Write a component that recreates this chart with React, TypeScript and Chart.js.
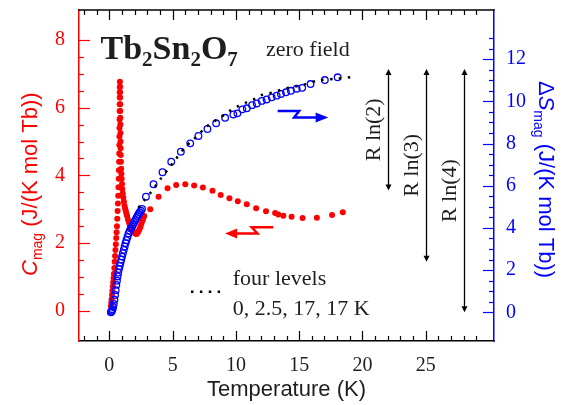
import React, { useEffect, useRef } from 'react';
import { Chart, registerables } from 'chart.js';

Chart.register(...registerables);

// ---- data ----
const cmagT = [0.12, 0.15, 0.18, 0.21, 0.24, 0.27, 0.3, 0.33, 0.36, 0.39, 0.42, 0.45, 0.48, 0.51, 0.54, 0.57, 0.6, 0.625, 0.65, 0.675, 0.7, 0.72, 0.74, 0.755, 0.77, 0.78, 0.79, 0.795, 0.8, 0.805, 0.81, 0.815, 0.82, 0.82, 0.825, 0.83, 0.84, 0.845, 0.85, 0.855, 0.86, 0.865, 0.87, 0.875, 0.88, 0.89, 0.9, 0.915, 0.93, 0.95, 0.97, 1.0, 1.02, 1.06, 1.1, 1.15, 1.2, 1.25, 1.3, 1.35, 1.4, 1.47, 1.55, 1.62, 1.7, 1.77, 1.85, 1.92, 2.0, 2.08, 2.15, 2.22, 2.3, 2.37, 2.45, 2.52, 2.6, 2.67, 2.75, 3.23, 3.89, 4.6, 5.28, 6.0, 6.7, 7.39, 8.15, 8.8, 9.49, 10.15, 10.86, 11.6, 12.38, 13.1, 13.35, 13.75, 14.4, 15.27, 16.4, 17.6, 18.45];
const cmagVal = [0.15, 0.25, 0.35, 0.47, 0.6, 0.72, 0.85, 0.97, 1.1, 1.27, 1.45, 1.62, 1.8, 1.97, 2.15, 2.32, 2.5, 2.72, 2.95, 3.17, 3.4, 3.65, 3.9, 4.15, 4.4, 4.65, 4.9, 5.15, 5.4, 5.65, 5.9, 6.1, 6.3, 6.45, 6.6, 6.76, 6.62, 6.45, 6.3, 6.1, 5.9, 5.7, 5.5, 5.25, 5.0, 4.8, 4.6, 4.4, 4.2, 4.05, 3.9, 3.75, 3.6, 3.47, 3.35, 3.22, 3.1, 3.02, 2.95, 2.87, 2.8, 2.7, 2.6, 2.52, 2.45, 2.4, 2.35, 2.32, 2.3, 2.28, 2.27, 2.3, 2.35, 2.41, 2.48, 2.56, 2.65, 2.72, 2.8, 3.0, 3.37, 3.62, 3.72, 3.74, 3.7, 3.64, 3.55, 3.42, 3.33, 3.24, 3.15, 3.03, 2.94, 2.89, 2.85, 2.81, 2.78, 2.74, 2.75, 2.83, 2.91];

const dsT = [0.12, 0.16, 0.2, 0.25, 0.3, 0.35, 0.4, 0.45, 0.5, 0.55, 0.6, 0.65, 0.7, 0.76, 0.82, 0.88, 0.94, 1.0, 1.07, 1.14, 1.21, 1.28, 1.35, 1.43, 1.52, 1.61, 1.7, 1.79, 1.88, 1.97, 2.05, 2.14, 2.23, 2.31, 2.4, 2.49, 2.58, 2.89, 3.49, 4.2, 4.89, 5.65, 6.39, 7.04, 7.75, 8.44, 9.15, 9.8, 10.12, 10.51, 10.86, 11.28, 11.65, 12.04, 12.43, 12.83, 13.22, 13.56, 13.96, 14.35, 14.8, 15.24, 15.9, 17.03, 18.04];
const dsVal = [0.0, 0.03, 0.08, 0.15, 0.25, 0.4, 0.6, 0.82, 1.05, 1.3, 1.5, 1.7, 1.88, 2.05, 2.2, 2.35, 2.5, 2.64, 2.8, 2.96, 3.12, 3.28, 3.42, 3.57, 3.74, 3.87, 3.97, 4.06, 4.16, 4.27, 4.37, 4.47, 4.57, 4.66, 4.74, 4.82, 4.9, 5.48, 6.07, 6.64, 7.14, 7.61, 8.01, 8.36, 8.69, 8.96, 9.22, 9.38, 9.43, 9.62, 9.67, 9.82, 9.9, 10.02, 10.09, 10.19, 10.27, 10.35, 10.43, 10.5, 10.6, 10.64, 10.82, 11.01, 11.14];

const modelT = [2.3, 2.5, 3.29, 4.08, 4.86, 5.26, 6.07, 6.55, 7.49, 8.02, 8.62, 9.62, 10.2, 10.83, 11.44, 12.04, 12.64, 13.27, 13.96, 14.6, 15.24, 16.45, 17.74, 19.06];
const modelVal = [4.95, 5.12, 5.69, 6.35, 6.95, 7.27, 7.88, 8.13, 8.69, 8.96, 9.17, 9.59, 9.78, 9.95, 10.11, 10.3, 10.38, 10.49, 10.62, 10.69, 10.77, 10.98, 11.06, 11.14];

const xTickLabels = [0, 5, 10, 15, 20, 25];
const leftTickLabels = [0, 2, 4, 6, 8];
const rightTickLabels = [0, 2, 4, 6, 8, 10, 12];

const rlnLabels = ['R ln(2)', 'R ln(3)', 'R ln(4)'];
const rlnValues = [5.76, 9.13, 11.53];
const rlnArrowT = [22.0, 25.0, 28.0];

const RED = '#ff0000';
const BLUE = '#0000ff';
const INK = '#1e1e1e';
const SERIF = '"Liberation Serif", "Times New Roman", serif';
const SANS = '"Liberation Sans", Arial, sans-serif';

type Part = { t: string; f: string; dy?: number };

function drawParts(ctx: CanvasRenderingContext2D, parts: Part[], x0: number, y0: number) {
  let x = x0;
  for (const p of parts) {
    ctx.font = p.f;
    ctx.fillText(p.t, x, y0 + (p.dy || 0));
    x += ctx.measureText(p.t).width;
  }
}

const overlay = {
  id: 'overlay',
  afterDraw(chart: any) {
    const ctx: CanvasRenderingContext2D = chart.ctx;
    const { left, right, top, bottom } = chart.chartArea;
    const xs = chart.scales.x;
    const ys = chart.scales.y;
    const ys2 = chart.scales.y2;
    ctx.save();

    // top frame line
    ctx.strokeStyle = '#000';
    ctx.lineWidth = 1.5;
    ctx.beginPath();
    ctx.moveTo(left - 0.75, top);
    ctx.lineTo(right + 0.75, top);
    ctx.stroke();

    // x ticks (inward, top and bottom)
    ctx.lineWidth = 1.2;
    for (let v = -2; v <= 29; v++) {
      const px = Math.round(xs.getPixelForValue(v)) + 0.5;
      const len = v % 5 === 0 ? 10 : 5;
      ctx.beginPath();
      ctx.moveTo(px, bottom);
      ctx.lineTo(px, bottom - len);
      ctx.moveTo(px, top);
      ctx.lineTo(px, top + len);
      ctx.stroke();
    }
    // left ticks
    ctx.strokeStyle = RED;
    for (let v = 0; v <= 8.001; v += 0.5) {
      const py = Math.round(ys.getPixelForValue(v)) + 0.5;
      const len = Math.abs(v % 2) < 1e-6 ? 11 : 5;
      ctx.beginPath();
      ctx.moveTo(left, py);
      ctx.lineTo(left + len, py);
      ctx.stroke();
    }
    // right ticks
    ctx.strokeStyle = BLUE;
    for (let v = 0; v <= 13.001; v += 0.5) {
      const py = Math.round(ys2.getPixelForValue(v)) + 0.5;
      const len = Math.abs(v % 2) < 1e-6 ? 11 : 5;
      ctx.beginPath();
      ctx.moveTo(right, py);
      ctx.lineTo(right - len, py);
      ctx.stroke();
    }

    ctx.textBaseline = 'alphabetic';
    ctx.textAlign = 'left';

    // bottom title
    ctx.fillStyle = INK;
    ctx.font = '22px ' + SANS;
    ctx.textAlign = 'center';
    ctx.fillText('Temperature (K)', (left + right) / 2, 396);
    ctx.textAlign = 'left';

    // left title
    ctx.save();
    ctx.fillStyle = RED;
    ctx.translate(36.5, 276);
    ctx.rotate(-Math.PI / 2);
    drawParts(ctx, [
      { t: 'C', f: 'italic 22px ' + SANS },
      { t: 'mag', f: '14px ' + SANS, dy: 5 },
      { t: ' (J/(K mol Tb))', f: '22px ' + SANS },
    ], 0, 0);
    ctx.restore();

    // right title
    ctx.save();
    ctx.fillStyle = BLUE;
    ctx.translate(539, 81);
    ctx.rotate(Math.PI / 2);
    drawParts(ctx, [
      { t: '\u0394', f: '22px ' + SANS },
      { t: 'S', f: 'italic 22px ' + SANS },
      { t: 'mag', f: '14px ' + SANS, dy: 5 },
      { t: ' (J/(K mol Tb))', f: '22px ' + SANS },
    ], 0, 0);
    ctx.restore();

    // compound name
    ctx.fillStyle = INK;
    const b = 'bold 34px ' + SERIF;
    const bs = 'bold 21px ' + SERIF;
    drawParts(ctx, [
      { t: 'Tb', f: b }, { t: '2', f: bs, dy: 7 },
      { t: 'Sn', f: b }, { t: '2', f: bs, dy: 7 },
      { t: 'O', f: b }, { t: '7', f: bs, dy: 7 },
    ], xs.getPixelForValue(-0.7), ys.getPixelForValue(7.42));

    ctx.font = '22px ' + SERIF;
    ctx.fillText('zero field', xs.getPixelForValue(12.38), ys.getPixelForValue(7.52));
    ctx.fillText('four levels', xs.getPixelForValue(9.75), ys.getPixelForValue(0.77));
    ctx.fillText('0, 2.5, 17, 17 K', xs.getPixelForValue(9.75), ys.getPixelForValue(-0.12));

    // dotted legend sample
    ctx.strokeStyle = '#000';
    ctx.lineWidth = 2.5;
    ctx.setLineDash([2.5, 6.4]);
    ctx.beginPath();
    const ly = ys.getPixelForValue(0.57);
    ctx.moveTo(xs.getPixelForValue(6.45), ly);
    ctx.lineTo(xs.getPixelForValue(8.75), ly);
    ctx.stroke();
    ctx.setLineDash([]);

    // R ln(n) arrows
    const topS = rlnValues[2];
    ctx.strokeStyle = '#000';
    ctx.fillStyle = '#000';
    ctx.lineWidth = 1.3;
    for (let i = 0; i < rlnValues.length; i++) {
      const px = Math.round(xs.getPixelForValue(rlnArrowT[i])) + 0.5;
      const y1 = ys2.getPixelForValue(topS);
      const y2 = ys2.getPixelForValue(topS - rlnValues[i]);
      ctx.beginPath();
      ctx.moveTo(px, y1 + 4);
      ctx.lineTo(px, y2 - 4);
      ctx.stroke();
      ctx.beginPath();
      ctx.moveTo(px, y1);
      ctx.lineTo(px - 3, y1 + 6);
      ctx.lineTo(px + 3, y1 + 6);
      ctx.closePath();
      ctx.fill();
      ctx.beginPath();
      ctx.moveTo(px, y2);
      ctx.lineTo(px - 3, y2 - 6);
      ctx.lineTo(px + 3, y2 - 6);
      ctx.closePath();
      ctx.fill();
      ctx.save();
      ctx.fillStyle = INK;
      ctx.translate(px - 14, (y1 + y2) / 2);
      ctx.rotate(-Math.PI / 2);
      ctx.font = '22px ' + SERIF;
      ctx.textAlign = 'center';
      ctx.textBaseline = 'middle';
      ctx.fillText(rlnLabels[i], 0, 0);
      ctx.restore();
    }

    // blue bolt arrow (pointing right, to the entropy axis)
    const bx = (t: number) => xs.getPixelForValue(t);
    const byS = (s: number) => ys2.getPixelForValue(s);
    ctx.strokeStyle = BLUE;
    ctx.fillStyle = BLUE;
    ctx.lineWidth = 2.5;
    ctx.beginPath();
    ctx.moveTo(bx(13.3), byS(9.54));
    ctx.lineTo(bx(15.0), byS(9.54));
    ctx.lineTo(bx(14.6), byS(9.24));
    ctx.lineTo(bx(16.5), byS(9.24));
    ctx.stroke();
    ctx.beginPath();
    ctx.moveTo(bx(17.3), byS(9.24));
    ctx.lineTo(bx(16.3), byS(9.24) - 5);
    ctx.lineTo(bx(16.3), byS(9.24) + 5);
    ctx.closePath();
    ctx.fill();

    // red bolt arrow (pointing left, to the heat capacity axis)
    ctx.strokeStyle = RED;
    ctx.fillStyle = RED;
    ctx.beginPath();
    ctx.moveTo(bx(12.95), ys.getPixelForValue(2.47));
    ctx.lineTo(bx(11.25), ys.getPixelForValue(2.47));
    ctx.lineTo(bx(11.7), ys.getPixelForValue(2.29));
    ctx.lineTo(bx(9.9), ys.getPixelForValue(2.29));
    ctx.stroke();
    ctx.beginPath();
    ctx.moveTo(bx(9.15), ys.getPixelForValue(2.29));
    ctx.lineTo(bx(10.1), ys.getPixelForValue(2.29) - 5);
    ctx.lineTo(bx(10.1), ys.getPixelForValue(2.29) + 5);
    ctx.closePath();
    ctx.fill();

    ctx.restore();
  },
};

const noPadY = (w: number) => (s: any) => {
  s.width = w;
  s.paddingTop = 0;
  s.paddingBottom = 0;
};

export default function App() {
  const ref = useRef<HTMLCanvasElement | null>(null);
  useEffect(() => {
    if (!ref.current) return;
    const cData = cmagT.map((t, i) => ({ x: t, y: cmagVal[i] }));
    const sData = dsT.map((t, i) => ({ x: t, y: dsVal[i] }));
    const mData = modelT.map((t, i) => ({ x: t, y: modelVal[i] }));
    const chart = new Chart(ref.current, {
      type: 'scatter',
      data: {
        datasets: [
          {
            label: 'four levels',
            data: mData,
            yAxisID: 'y2',
            showLine: true,
            borderColor: '#000',
            borderWidth: 2.5,
            borderDash: [2.5, 6.4],
            borderCapStyle: 'butt',
            pointRadius: 0,
            tension: 0.3,
          } as any,
          {
            label: 'dS',
            data: sData,
            yAxisID: 'y2',
            pointRadius: 3.3,
            pointBorderWidth: 1.3,
            pointBorderColor: BLUE,
            pointBackgroundColor: 'rgba(255,255,255,0)',
          },
          {
            label: 'Cmag',
            data: cData,
            yAxisID: 'y',
            pointRadius: 3,
            pointBorderWidth: 0,
            pointBackgroundColor: RED,
            pointBorderColor: RED,
          },
        ],
      },
      options: {
        animation: false,
        responsive: false,
        layout: { padding: { top: 10, left: 0, right: 0, bottom: 0 } },
        plugins: { legend: { display: false }, tooltip: { enabled: false } },
        scales: {
          x: {
            type: 'linear',
            position: 'bottom',
            min: -2.4,
            max: 30.4,
            grid: { display: false, drawTicks: false },
            border: { display: true, color: '#000', width: 1.5 },
            afterBuildTicks: (s: any) => { s.ticks = xTickLabels.map((v) => ({ value: v })); },
            afterFit: (s: any) => { s.height = 64; s.paddingLeft = 0; s.paddingRight = 0; },
            ticks: { color: INK, font: { family: SERIF, size: 20 }, padding: 13, maxRotation: 0, autoSkip: false },
          },
          y: {
            type: 'linear',
            position: 'left',
            min: -0.885,
            max: 8.88,
            grid: { display: false, drawTicks: false },
            border: { display: true, color: RED, width: 1.5 },
            afterBuildTicks: (s: any) => { s.ticks = leftTickLabels.map((v) => ({ value: v })); },
            afterFit: noPadY(79),
            ticks: { color: RED, font: { family: SERIF, size: 20 }, padding: 14, autoSkip: false },
          },
          y2: {
            type: 'linear',
            position: 'right',
            min: -1.36,
            max: 14.33,
            grid: { display: false, drawTicks: false },
            border: { display: true, color: BLUE, width: 1.5 },
            afterBuildTicks: (s: any) => { s.ticks = rightTickLabels.map((v) => ({ value: v })); },
            afterFit: noPadY(71),
            ticks: { color: BLUE, font: { family: SERIF, size: 20 }, padding: 12, autoSkip: false },
          },
        },
      },
      plugins: [overlay],
    });
    return () => chart.destroy();
  }, []);
  return (
    <div style={{ position: 'fixed', left: 0, top: 0, width: 565, height: 405, background: '#fff' }}>
      <canvas ref={ref} width={565} height={405} style={{ width: 565, height: 405 }} />
    </div>
  );
}
